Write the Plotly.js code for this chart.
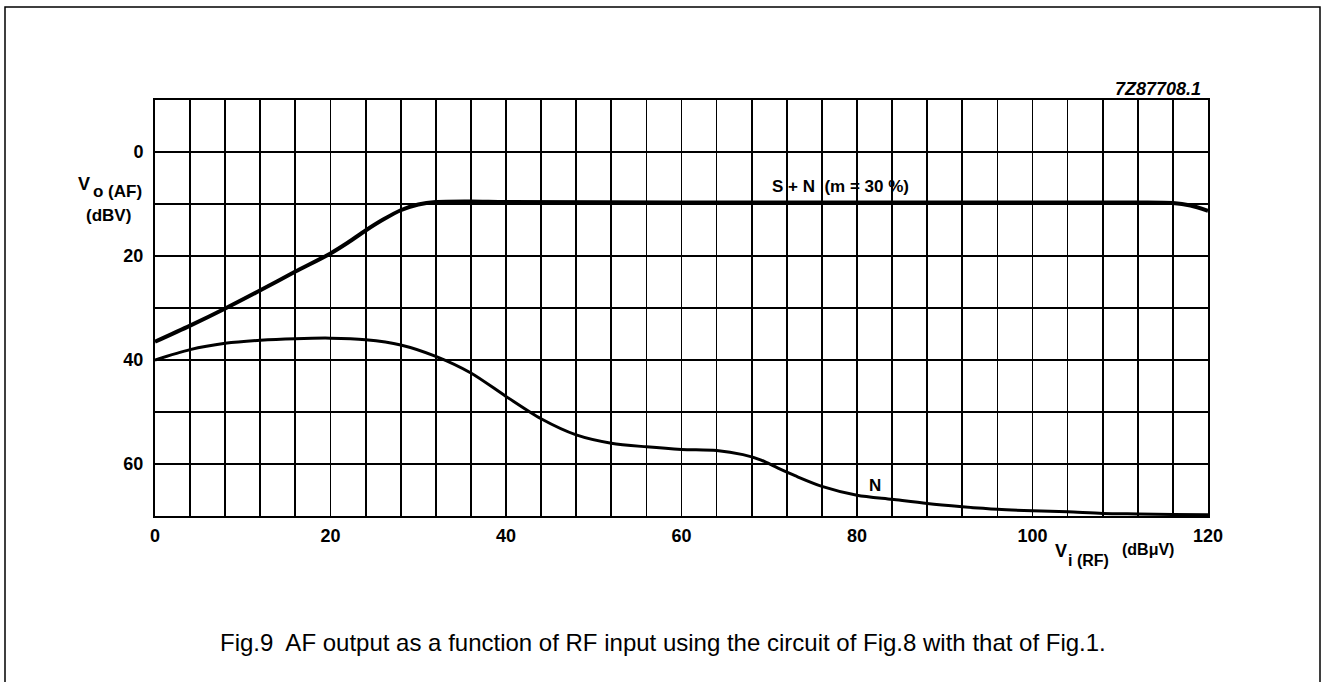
<!DOCTYPE html>
<html>
<head>
<meta charset="utf-8">
<script src="https://cdn.plot.ly/plotly-3.0.1.min.js"></script>
<style>
html,body{margin:0;padding:0;background:#fff;}
#chart{width:1326px;height:682px;}
</style>
</head>
<body>
<div id="chart"></div>
<script>
// RF input level Vi(RF) in dBµV
const snX = [0, 4, 8, 12, 16, 20, 22, 24, 26, 28, 30, 32, 36, 40, 60, 80, 100, 112, 116, 118, 120];
// S+N output (m = 30 %) in dBV (plotted as magnitude below 0 dBV)
const snY = [36.5, 33.4, 30.1, 26.6, 23.0, 19.5, 17.4, 15.1, 13.0, 11.2, 10.1, 9.6, 9.5, 9.6, 9.7, 9.7, 9.7, 9.7, 9.8, 10.3, 11.3];

const nX = [0, 4, 8, 12, 16, 20, 24, 28, 32, 36, 40, 44, 48, 52, 56, 60, 64, 67, 69, 71, 73, 76, 80, 84, 88, 92, 96, 100, 104, 108, 112, 116, 120];
// Noise output in dBV
const nY = [40.0, 38.0, 36.8, 36.2, 35.9, 35.8, 36.1, 37.1, 39.3, 42.5, 47.0, 51.3, 54.4, 56.0, 56.7, 57.2, 57.4, 58.2, 59.2, 60.8, 62.3, 64.3, 66.0, 66.8, 67.6, 68.2, 68.7, 69.0, 69.2, 69.5, 69.6, 69.7, 69.75];

const xTicks = [0, 20, 40, 60, 80, 100, 120];
const yTicks = [0, 20, 40, 60];

const FAM = 'Liberation Sans, Arial, sans-serif';
const bold = (s) => ({family: FAM, size: s, color: '#000', weight: 'bold'});

const traces = [
  {x: snX, y: snY, mode: 'lines', line: {color: '#000', width: 4, shape: 'spline', smoothing: 0.8}, hoverinfo: 'skip'},
  {x: nX, y: nY, mode: 'lines', line: {color: '#000', width: 3, shape: 'spline', smoothing: 0.8}, hoverinfo: 'skip'}
];

// pixel helpers for annotations placed outside the plot area
const L = 155, T = 100, W = 1053, H = 416;
const px = (x) => (x - L) / W;
const py = (y) => (T + H - y) / H;

const layout = {
  width: 1326, height: 682,
  margin: {l: 155, r: 118, t: 100, b: 166},
  paper_bgcolor: '#fff', plot_bgcolor: '#fff',
  showlegend: false,
  xaxis: {
    range: [0, 120], tickvals: xTicks, ticktext: xTicks.map(String),
    showgrid: true, gridcolor: '#000', gridwidth: 1.8,
    showline: true, linecolor: '#000', linewidth: 2, mirror: true,
    zeroline: false, ticks: '', tickfont: bold(18), ticklabelstandoff: 2,
    minor: {dtick: 4, tick0: 0, showgrid: true, gridcolor: '#000', gridwidth: 1.8, ticks: ''}
  },
  yaxis: {
    range: [70, -10], tickvals: yTicks, ticktext: yTicks.map(String),
    showgrid: true, gridcolor: '#000', gridwidth: 1.8,
    showline: true, linecolor: '#000', linewidth: 2, mirror: true,
    zeroline: false, ticks: '', tickfont: bold(18), ticklabelstandoff: 6,
    minor: {dtick: 10, tick0: 0, showgrid: true, gridcolor: '#000', gridwidth: 1.8, ticks: ''}
  },
  shapes: [
    {type: 'rect', xref: 'paper', yref: 'paper',
     x0: px(5), x1: px(1320), y0: py(700), y1: py(7),
     line: {color: '#000', width: 1.5}, fillcolor: 'rgba(0,0,0,0)', layer: 'below'}
  ],
  annotations: [
    {xref: 'x', yref: 'y', x: 78.1, y: 6.7, text: 'S + N  (m = 30 %)', showarrow: false, font: bold(17)},
    {xref: 'x', yref: 'y', x: 82.05, y: 64.2, text: 'N', showarrow: false, font: bold(17)},
    {xref: 'paper', yref: 'paper', x: px(1203), y: py(89), xanchor: 'right', yanchor: 'middle',
     text: '<i>7Z87708.1</i>', showarrow: false, font: bold(18)},
    // y-axis title
    {xref: 'paper', yref: 'paper', x: px(76), y: py(184), xanchor: 'left', yanchor: 'middle',
     text: 'V', showarrow: false, font: bold(18)},
    {xref: 'paper', yref: 'paper', x: px(91), y: py(191), xanchor: 'left', yanchor: 'middle',
     text: 'o (AF)', showarrow: false, font: bold(17)},
    {xref: 'paper', yref: 'paper', x: px(84), y: py(215), xanchor: 'left', yanchor: 'middle',
     text: '(dBV)', showarrow: false, font: bold(17)},
    // x-axis title
    {xref: 'paper', yref: 'paper', x: px(1053), y: py(551), xanchor: 'left', yanchor: 'middle',
     text: 'V', showarrow: false, font: bold(18)},
    {xref: 'paper', yref: 'paper', x: px(1066), y: py(560), xanchor: 'left', yanchor: 'middle',
     text: 'i (RF)', showarrow: false, font: bold(16)},
    {xref: 'paper', yref: 'paper', x: px(1120), y: py(549), xanchor: 'left', yanchor: 'middle',
     text: '(dBμV)', showarrow: false, font: bold(16)},
    // caption
    {xref: 'paper', yref: 'paper', x: px(663), y: py(642), xanchor: 'center', yanchor: 'middle',
     text: 'Fig.9  AF output as a function of RF input using the circuit of Fig.8 with that of Fig.1.', showarrow: false,
     font: {family: FAM, size: 24, color: '#000'}}
  ]
};

Plotly.newPlot('chart', traces, layout, {displayModeBar: false, staticPlot: true});
</script>
</body>
</html>
